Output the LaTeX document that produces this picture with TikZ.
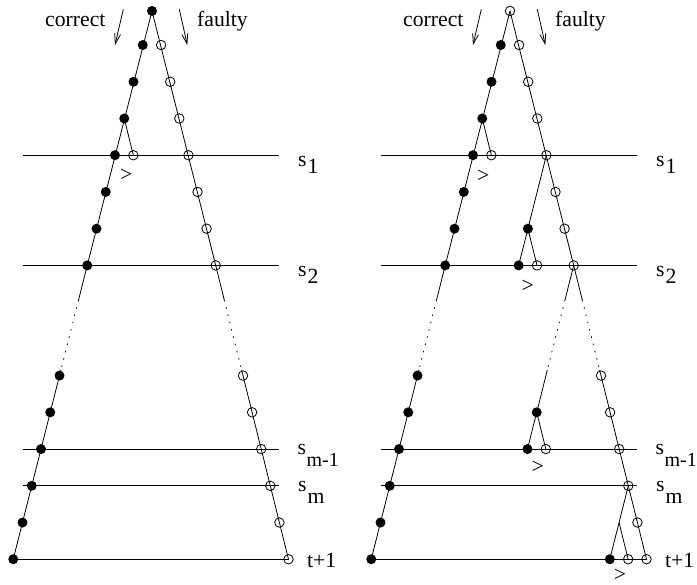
\documentclass[tikz,border=0pt]{standalone}
\usepackage{fontspec}
\setmainfont{Liberation Serif}
\usetikzlibrary{arrows.meta, calc}
\newcommand{\figfont}{\rmfamily\fontsize{21.7}{26}\selectfont}
\newcommand{\subfont}{\fontsize{20}{24}\selectfont}

\begin{document}
\begin{tikzpicture}[
    x=1pt, y=-1pt,
    declare function={ly(\k)=8.3+36.73*\k; xl(\k)=152-9.25*\k; xr(\k)=152+9.1*\k;},
    full/.style={circle, fill=black, inner sep=0pt, minimum size=10pt},
    hollow/.style={circle, draw=black, line width=0.8pt, inner sep=0pt, minimum size=9.5pt},
    edge/.style={line width=0.8pt},
    gap/.style={line width=0.8pt, dash pattern=on 1.5pt off 6pt},
    flow/.style={line width=0.8pt, -{Straight Barb[length=10pt, width=6pt]}},
    tag/.style={font=\figfont, anchor=base west, inner sep=0pt},
    cmp/.style={font=\figfont, inner sep=0pt}
]
\useasboundingbox (0,0) rectangle (697,585);

% Two panels: same cone of rounds
\foreach \p/\dx/\apex in {A/0/full, B/358/hollow} {
\begin{scope}[xshift=\dx pt]
% Apex and the two chains
\node[\apex] (\p0) at (152,11) {};
\foreach \k in {1,2,3,4,5,6,7,10,11,12,13,14,15} {
    \node[full] (\p l\k) at ({xl(\k)},{ly(\k)}) {};
    \node[hollow] (\p r\k) at ({xr(\k)},{ly(\k)}) {};
}
\coordinate (\p lu) at ({xl(7.94)},{ly(7.94)});
\coordinate (\p lv) at ({xl(9.85)},{ly(9.85)});
\coordinate (\p ru) at ({xr(7.94)},{ly(7.94)});
\coordinate (\p rv) at ({xr(9.85)},{ly(9.85)});

\draw[edge] (\p0.center) -- (\p l7.center) -- (\p lu);
\draw[gap] (\p lu) -- (\p lv);
\draw[edge] (\p lv) -- (\p l15.center);
\draw[edge] (\p0.center) -- (\p r7.center) -- (\p ru);
\draw[gap] (\p ru) -- (\p rv);
\draw[edge] (\p rv) -- (\p r15.center);

% Level lines
\foreach \k in {4,7,12,13} {
    \draw[edge] (22.7,{ly(\k)}) -- (279.3,{ly(\k)});
}
\draw[edge] (\p l15.center) -- (\p r15.center);

% Level names
\node[tag] (\p s1) at (298,167) {s\kern1pt\raisebox{-6.5pt}{1}};
\node[tag] (\p s2) at (298,277) {s\kern1pt\raisebox{-6.5pt}{2}};
\node[tag] (\p sm1) at (297.5,455) {s\kern0.5pt\raisebox{-11.7pt}{\subfont m-1}};
\node[tag] (\p sm) at (298,492) {s\kern1pt\raisebox{-11.7pt}{m}};
\node[tag] (\p t) at (307,567) {t+1};

% Heading arrows
\node[tag] (\p ok) at (45,26.5) {correct};
\node[tag] (\p bad) at (197,26.5) {faulty};
\coordinate (\p oka) at (123.3,9.3);
\coordinate (\p okb) at (115,45);
\coordinate (\p bada) at (179.3,9.3);
\coordinate (\p badb) at (187.3,45);
\draw[flow] (\p oka) -- (\p okb);
\draw[flow] (\p bada) -- (\p badb);
\end{scope}
}

% Left panel: one comparison at s1
\node[hollow] (Ax1) at (133.35,{ly(4)}) {};
\draw[edge] (Al3.center) -- (Ax1.center);
\node[cmp] at ($(Al4)!.5!(Ax1)+(2,20)$) {>};

% Right panel: comparisons along the way
\begin{scope}[xshift=358pt]
\node[hollow] (Bx1) at (133.35,{ly(4)}) {};
\draw[edge] (Bl3.center) -- (Bx1.center);
\node[cmp] at ($(Bl4)!.5!(Bx1)+(1,21)$) {>};

\node[full] (Bf6) at (169.9,{ly(6)}) {};
\node[full] (Bf7) at (160.65,{ly(7)}) {};
\node[hollow] (Bx2) at (179.0,{ly(7)}) {};
\draw[edge] (Br4.center) -- (Bf6.center) -- (Bf7.center);
\draw[edge] (Bf6.center) -- (Bx2.center);
\node[cmp] at ($(Bf7)!.5!(Bx2)+(0,21)$) {>};

\coordinate (Bu3) at (207.0,{ly(7.94)});
\coordinate (Bv3) at (189.3,{ly(9.85)});
\node[full] (Bf11) at (178.7,{ly(11)}) {};
\node[full] (Bf12) at (169.45,{ly(12)}) {};
\node[hollow] (Bx3) at (187.8,{ly(12)}) {};
\draw[edge] (Br7.center) -- (Bu3);
\draw[gap] (Bu3) -- (Bv3);
\draw[edge] (Bv3) -- (Bf11.center) -- (Bf12.center);
\draw[edge] (Bf11.center) -- (Bx3.center);
\node[cmp] at ($(Bf12)!.5!(Bx3)+(1,18)$) {>};

\coordinate (Bk14) at (261.05,{ly(14)});
\node[full] (Bf15) at (251.8,{ly(15)}) {};
\node[hollow] (Bx4) at (270.15,{ly(15)}) {};
\draw[edge] (Br13.center) -- (Bk14) -- (Bf15.center);
\draw[edge] (Bk14) -- (Bx4.center);
\node[cmp] at ($(Bf15)!.5!(Bx4)+(1,16.5)$) {>};
\end{scope}
\end{tikzpicture}
\end{document}
